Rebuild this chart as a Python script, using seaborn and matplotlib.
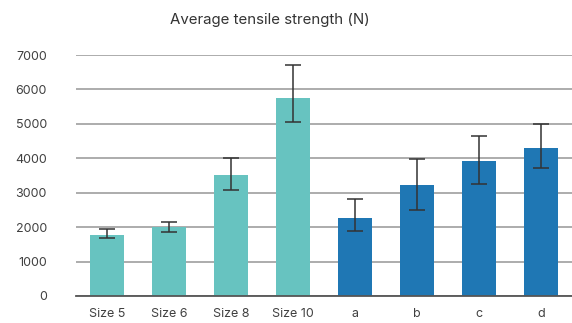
import numpy as np
import pandas as pd
import matplotlib
matplotlib.use("Agg")
import matplotlib.pyplot as plt
import seaborn as sns

labels = ["Size 5", "Size 6", "Size 8", "Size 10", "a", "b", "c", "d"]
strength = [1775, 2005, 3520, 5760, 2265, 3225, 3925, 4300]
err_low = [80, 145, 445, 710, 375, 725, 660, 590]
err_high = [165, 155, 490, 940, 560, 765, 715, 690]
group = ["size"] * 4 + ["letter"] * 4

df = pd.DataFrame({"label": labels, "strength": strength, "group": group})

sns.set_style("white")
plt.rcParams["font.family"] = ["Inter", "DejaVu Sans"]

fig = plt.figure(figsize=(5.72, 3.23), dpi=100)
ax = fig.add_axes([0.133, 0.0836, 0.867, 0.746])

sns.barplot(data=df, x="label", y="strength", hue="group",
            palette={"size": "#67c3c0", "letter": "#1f77b4"},
            width=0.55, dodge=False, legend=False, saturation=1,
            linewidth=0, ax=ax, zorder=2)

xs = [p.get_x() + p.get_width() / 2 for p in ax.patches if p.get_height() > 0]
xs = sorted(xs)
ax.errorbar(xs, strength, yerr=[err_low, err_high], fmt="none",
            ecolor="#333333", elinewidth=1.1, capsize=6, capthick=1.1, zorder=3)

ax.set_ylim(0, 7000)
ax.set_xlim(-0.5, len(labels) - 0.5)
ax.set_yticks(range(0, 7001, 1000))
ax.yaxis.grid(True, color="#a6a6a6", linewidth=1.3, zorder=0)
ax.set_axisbelow(True)
for s in ["top", "right", "left"]:
    ax.spines[s].set_visible(False)
ax.spines["bottom"].set_color("#555555")
ax.spines["bottom"].set_linewidth(1.3)
ax.tick_params(axis="both", length=0, labelsize=9, colors="#404040")
ax.tick_params(axis="y", pad=21)
ax.tick_params(axis="x", pad=9)
ax.set_xlabel("")
ax.set_ylabel("")

fig.text(0.472, 0.938, "Average tensile strength (N)", ha="center", va="center",
         fontsize=10.8, color="#333333")

fig.savefig("out.png", dpi=100)
